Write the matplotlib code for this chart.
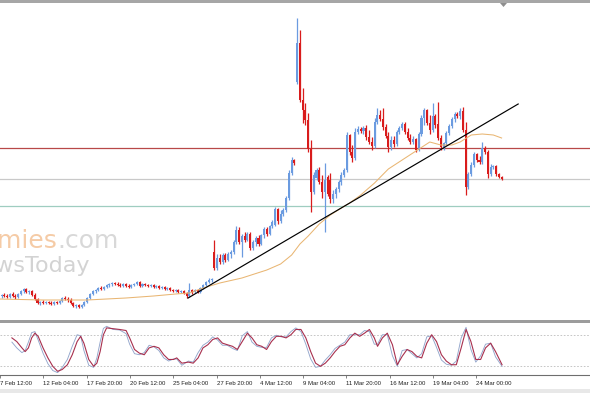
import numpy as np
import matplotlib.pyplot as plt
from matplotlib.patches import Rectangle, Polygon

# H4 candles, bar index starts at 5 (bar 0 = "7 Feb 12:00")
first_bar = 5
opens = [24, 25, 24, 23, 26, 24, 23, 26, 29, 31, 28, 29, 25, 21, 17, 18, 17, 18, 17, 16,
         18, 17, 19, 22, 21, 20, 17, 14, 15, 13, 15, 18, 22, 26, 29, 30, 32, 31, 33, 35,
         36, 37, 36, 35, 34, 36, 34, 33, 35, 36, 38, 34, 36, 35, 34, 35, 33, 34, 32, 33,
         31, 32, 30, 29, 30, 28, 29, 27, 24, 30, 28, 30, 28, 32, 35, 38, 40, 68, 52, 62,
         58, 65, 60, 66, 68, 78, 90, 78, 84, 80, 86, 72, 78, 82, 76, 85, 91, 86, 94, 95,
         111, 99, 106, 110, 122, 147, 160, 238, 277, 220, 210, 200, 171, 128, 142, 150, 138, 128, 143, 140,
         121, 126, 131, 138, 145, 150, 185, 168, 162, 188, 191, 189, 192, 183, 178, 174, 198, 205, 201, 193,
         184, 173, 180, 176, 188, 192, 196, 188, 182, 178, 181, 170, 186, 202, 210, 197, 190, 204, 196, 182,
         173, 177, 187, 194, 201, 206, 204, 209, 190, 133, 146, 155, 166, 160, 158, 172, 168, 146, 153, 154,
         146, 143]
highs = [26, 27, 26, 27, 28, 26, 27, 30, 32, 32, 30, 30, 27, 22, 19, 20, 19, 19, 19, 19,
         19, 20, 23, 24, 23, 22, 18, 16, 16, 16, 19, 23, 27, 30, 31, 33, 34, 34, 36, 37,
         38, 38, 38, 37, 37, 37, 36, 36, 37, 39, 39, 37, 37, 36, 36, 36, 35, 35, 34, 34,
         33, 33, 31, 31, 31, 30, 30, 28, 37, 31, 31, 31, 33, 36, 39, 42, 42, 80, 66, 66,
         67, 67, 68, 70, 80, 94, 93, 86, 88, 88, 88, 80, 84, 85, 86, 93, 93, 95, 100, 113,
         112, 110, 112, 124, 150, 163, 161, 302, 290, 232, 217, 207, 180, 148, 152, 153, 145, 157, 145, 147,
         130, 133, 140, 148, 152, 188, 186, 175, 192, 194, 193, 194, 195, 190, 183, 202, 212, 210, 212, 196,
         188, 184, 184, 190, 194, 198, 198, 192, 186, 184, 182, 188, 205, 212, 211, 205, 217, 206, 218, 185,
         178, 189, 196, 203, 208, 208, 212, 213, 198, 148, 158, 168, 167, 164, 178, 174, 170, 156, 155, 155,
         147, 144]
lows = [22, 23, 22, 22, 23, 21, 22, 25, 27, 27, 26, 24, 20, 16, 15, 16, 16, 16, 15, 15,
        16, 16, 18, 20, 18, 16, 13, 12, 12, 12, 14, 17, 21, 25, 27, 29, 30, 30, 32, 33,
        34, 35, 34, 33, 33, 33, 32, 32, 34, 35, 33, 33, 34, 33, 33, 32, 32, 31, 31, 30,
        30, 29, 28, 28, 27, 27, 26, 22, 23, 26, 27, 27, 27, 31, 34, 37, 38, 50, 50, 56,
        56, 58, 59, 62, 66, 76, 76, 63, 78, 79, 70, 70, 74, 74, 75, 82, 84, 85, 92, 94,
        96, 97, 104, 108, 120, 145, 155, 236, 218, 197, 195, 168, 108, 126, 140, 136, 122, 88, 124, 117,
        117, 122, 128, 135, 143, 148, 165, 158, 160, 186, 187, 186, 180, 176, 170, 172, 196, 199, 190, 182,
        168, 170, 173, 174, 186, 190, 186, 180, 176, 176, 168, 169, 184, 195, 195, 186, 188, 192, 180, 170,
        170, 175, 185, 192, 198, 202, 201, 188, 125, 131, 144, 153, 158, 156, 156, 166, 142, 144, 151, 144,
        142, 140]
closes = [25, 24, 23, 26, 24, 23, 26, 29, 31, 28, 29, 25, 21, 17, 18, 17, 18, 17, 16, 18,
          17, 19, 22, 21, 20, 17, 14, 15, 13, 15, 18, 22, 26, 29, 30, 32, 31, 33, 35, 36,
          37, 36, 35, 34, 36, 34, 33, 35, 36, 38, 34, 36, 35, 34, 35, 33, 34, 32, 33, 31,
          32, 30, 29, 30, 28, 29, 27, 24, 30, 28, 30, 28, 32, 35, 38, 40, 41, 52, 62, 58,
          65, 60, 66, 68, 78, 90, 78, 84, 80, 86, 72, 78, 82, 76, 85, 91, 86, 94, 98, 111,
          99, 106, 110, 122, 147, 160, 157, 277, 220, 210, 200, 171, 128, 145, 150, 138, 128, 140, 126, 121,
          126, 131, 138, 145, 150, 185, 168, 162, 188, 191, 189, 192, 183, 178, 174, 198, 205, 201, 193, 184,
          173, 180, 176, 188, 192, 196, 188, 182, 178, 181, 170, 186, 202, 210, 197, 190, 204, 195, 182, 173,
          177, 187, 194, 201, 206, 204, 209, 190, 133, 146, 155, 166, 160, 158, 172, 168, 146, 153, 154, 146,
          143, 141]

# moving average, read at selected bars
ma_bars = [4, 20, 36, 50, 60, 68, 73, 78, 84, 92, 101, 106, 110, 113, 116, 120, 124, 128,
           131, 135, 140, 145, 150, 155, 160, 164, 168, 171, 175, 179, 183, 186]
ma_vals = [21, 20, 20, 22, 24, 26, 27, 32, 37, 42, 50, 56, 65, 76, 84, 96, 105, 112,
           117, 125, 137, 151, 160, 169, 178, 175, 175, 178, 185, 186, 185, 182]

# horizontal levels and trend line
level_red = 172
level_gray = 141
level_teal = 114
trend_bars = [72.5, 192]
trend_vals = [22, 216]

# stochastic oscillator
stoch_bars = [4.4, 6.2, 8.1, 9.3, 10.5, 11.7, 12.9, 14.1, 15.9, 17.7, 19.5, 21.3, 23.0, 24.9,
              26.7, 28.5, 29.8, 31.0, 32.8, 34.6, 35.8, 37.0, 38.2, 39.4, 41.8, 44.2, 46.6,
              47.9, 49.7, 51.5, 53.3, 55.1, 56.9, 58.7, 60.5, 62.3, 64.1, 65.3, 67.2, 69.6,
              71.4, 73.2, 75.0, 76.8, 78.6, 80.4, 82.2, 84.0, 85.9, 87.7, 89.5, 91.4, 93.1,
              94.9, 96.7, 98.5, 100.3, 102.1, 103.9, 105.7, 107.5, 109.3, 111.2, 113.0, 114.8,
              116.6, 118.4, 120.2, 122.0, 123.8, 125.6, 127.4, 129.3, 131.1, 132.9, 134.7,
              136.5, 138.3, 139.5, 141.3, 143.1, 145.0, 146.8, 148.6, 150.4, 152.2, 154.0,
              155.8, 157.7, 159.5, 161.3, 163.1, 164.9, 166.8, 168.6, 170.4, 172.2, 174.0,
              175.8, 177.6, 179.4, 181.3, 183.1, 185.5]
stoch_main = [66, 55, 46, 50, 66, 84, 86, 70, 45, 25, 12, 8, 18, 33, 58, 80, 78, 50, 22, 18,
              36, 66, 92, 96, 90, 89, 82, 62, 44, 42, 46, 60, 57, 50, 36, 30, 34, 34, 22, 30,
              28, 46, 60, 66, 76, 70, 60, 60, 54, 50, 78, 86, 66, 58, 56, 56, 74, 79, 76, 76,
              86, 93, 86, 62, 34, 18, 20, 32, 42, 54, 60, 66, 80, 80, 80, 88, 86, 62, 62, 80,
              80, 40, 20, 50, 52, 44, 36, 44, 76, 78, 56, 32, 24, 22, 30, 74, 94, 52, 28, 40,
              62, 64, 38, 20]
stoch_signal = [74, 67, 55, 48, 55, 74, 83, 77, 55, 36, 20, 10.5, 14, 23, 42, 67, 77, 64, 33, 20,
                26, 48, 80, 93, 91.5, 90, 88, 74, 52, 45, 42, 55, 58, 55, 42, 33, 33, 36, 26, 28,
                26, 36, 55, 61, 71, 74, 64, 61, 58, 52, 67, 83, 74, 61, 58, 52, 67, 77, 77, 74,
                80, 90, 90, 74, 48, 26, 20, 26, 36, 48, 58, 61, 74, 83, 77, 83, 90, 74, 58, 74,
                83, 61, 23, 39, 52, 48, 39, 36, 64, 80, 67, 42, 30, 23, 23, 55, 90, 67, 33, 33,
                55, 64, 48, 23]

tick_bars = [0, 16, 32, 48, 64, 80, 96, 112, 128, 144, 160, 176]
tick_labels = ['7 Feb 12:00', '12 Feb 04:00', '17 Feb 20:00', '20 Feb 12:00',
               '25 Feb 04:00', '27 Feb 20:00', '4 Mar 12:00', '9 Mar 04:00',
               '11 Mar 20:00', '16 Mar 12:00', '19 Mar 04:00', '24 Mar 00:00']

BULL = '#6b9be0'
BEAR = '#d91c1c'
W, H = 590, 393
XLIM = (4.42, 218.0)


def box(x0, y0, x1, y1):
    # pixel box (origin top-left) -> figure fraction rect
    return [x0 / W, 1 - y1 / H, (x1 - x0) / W, (y1 - y0) / H]


fig = plt.figure(figsize=(W / 100, H / 100), dpi=100)
fig.patch.set_facecolor('white')

# main price window
ax = fig.add_axes(box(0, 4, 590, 319))
ax.set_xlim(*XLIM)
ax.set_ylim(1, 316)
ax.axis('off')

o = np.array(opens, float)
hi = np.array(highs, float)
lo = np.array(lows, float)
c = np.array(closes, float)
idx = np.arange(first_bar, first_bar + len(o))
up = c >= o
cols = np.where(up, BULL, BEAR)

ax.vlines(idx, lo, hi, colors=cols, lw=0.9, zorder=3)
body_h = np.maximum(np.abs(c - o), 1.0)
ax.bar(idx, body_h, bottom=np.minimum(o, c), width=0.74, color=cols, lw=0, zorder=4)

ax.axhline(level_red, color='#b84848', lw=0.9, zorder=2)
ax.axhline(level_gray, color='#c9c9c9', lw=0.9, zorder=2)
ax.axhline(level_teal, color='#9fcdc0', lw=0.9, zorder=2)

ax.plot(ma_bars, ma_vals, color='#e9b673', lw=0.75, zorder=5)
ax.plot(trend_bars, trend_vals, color='black', lw=0.85, zorder=6)

# watermark
ax.text(57 / W, 1 - 248 / H, 'Economies', transform=fig.transFigure, ha='right',
        va='baseline', fontsize=18, color='#f5cba6', zorder=1, clip_on=False)
ax.text(57 / W, 1 - 248 / H, '.com', transform=fig.transFigure, ha='left',
        va='baseline', fontsize=18, color='#d8d8d8', zorder=1, clip_on=False)
ax.text(90 / W, 1 - 272 / H, 'NewsToday', transform=fig.transFigure, ha='right',
        va='baseline', fontsize=16, color='#d3d3d3', zorder=1, clip_on=False)

# stochastic window
ax2 = fig.add_axes(box(0, 323, 590, 375))
ax2.set_xlim(*XLIM)
ax2.set_ylim(3.5, 102.3)
ax2.patch.set_alpha(0)
for s in ['top', 'left', 'right']:
    ax2.spines[s].set_visible(False)
ax2.spines['bottom'].set_color('#6e6e6e')
ax2.spines['bottom'].set_linewidth(0.8)
ax2.axhline(80, color='#bdbdbd', lw=0.6, ls=(0, (2, 2)))
ax2.axhline(20, color='#bdbdbd', lw=0.6, ls=(0, (2, 2)))
ax2.plot(stoch_bars, stoch_main, color='#93a6cc', lw=0.65)
ax2.plot(stoch_bars, stoch_signal, color='#a8304e', lw=0.8)
ax2.set_yticks([])
ax2.set_xticks(tick_bars)
ax2.set_xticklabels(tick_labels, ha='left', fontsize=4.3,
                    family=['Liberation Sans Narrow', 'Liberation Sans', 'DejaVu Sans'])
ax2.tick_params(axis='x', length=2.5, width=0.6, color='#6e6e6e', pad=1.8,
                labelcolor='#202020')

# window frame bits
fig.add_artist(Rectangle((0, 1 - 2.5 / H), 1, 2.5 / H, transform=fig.transFigure,
                         color='#a6a6a6', lw=0))
fig.add_artist(Rectangle((0, 1 - 322.5 / H), 1, 2.5 / H, transform=fig.transFigure,
                         color='#9c9c9c', lw=0))
fig.add_artist(Rectangle((0, 0), 1, 4.5 / H, transform=fig.transFigure,
                         color='#e8e8e8', lw=0))
tri = [(500 / W, 1 - 3 / H), (507 / W, 1 - 3 / H), (503.5 / W, 1 - 7 / H)]
fig.add_artist(Polygon(tri, closed=True, transform=fig.transFigure, color='#8e8e8e', lw=0))

fig.savefig('out.png', dpi=100)
